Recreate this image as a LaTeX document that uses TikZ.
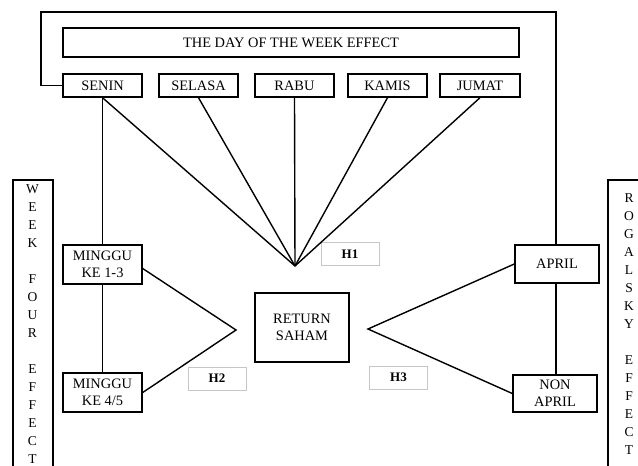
\documentclass[tikz,border=0pt]{standalone}
\usepackage{fontspec}
\setmainfont{Liberation Serif}
\begin{document}
\begin{tikzpicture}[x=1pt,y=-1pt,
  box/.style={draw=black,line width=1.4pt,inner sep=0pt,align=center,
    font=\fontsize{14.4}{17}\selectfont},
  hbox/.style={draw=gray!45,line width=0.6pt,inner sep=0pt,
    minimum width=58,minimum height=23,font=\fontsize{13}{16}\selectfont\bfseries},
  conn/.style={line width=1.4pt},
  vtext/.style={inner sep=0pt,align=center,anchor=north,
    font=\fontsize{13.5}{18}\selectfont}]
\useasboundingbox (0,0) rectangle (638,466);
\clip (0,0) rectangle (638,466);
% title and days
\node[box,minimum width=456,minimum height=29] (title) at (291,42.5) {THE DAY OF THE WEEK EFFECT};
\node[box,minimum width=79,minimum height=23] (senin) at (102.5,85.5) {SENIN};
\node[box,minimum width=79,minimum height=23] (selasa) at (198.5,85.5) {SELASA};
\node[box,minimum width=79,minimum height=23] (rabu) at (294.5,85.5) {RABU};
\node[box,minimum width=79,minimum height=23] (kamis) at (387.5,85.5) {KAMIS};
\node[box,minimum width=80,minimum height=23] (jumat) at (480,85.5) {JUMAT};
% left side
\node[box,minimum width=79,minimum height=39] (m13) at (102.5,264.5) {MINGGU\\KE 1-3};
\node[box,minimum width=79,minimum height=39] (m45) at (102.5,392.5) {MINGGU\\KE 4/5};
% centre
\node[box,minimum width=94,minimum height=69] (ret) at (302,327.5) {RETURN\\SAHAM};
% right side
\node[box,minimum width=84,minimum height=38] (apr) at (557,264) {APRIL};
\node[box,minimum width=84,minimum height=37] (napr) at (555,393.5) {NON\\APRIL};
% hypothesis labels
\node[hbox] (h1) at (350,254) {H1};
\node[hbox] (h2) at (217,378.5) {H2};
\node[hbox] (h3) at (398.5,377.5) {H3};
% apexes and frame corners
\coordinate (a1) at (295,266);
\coordinate (a2) at (236,330);
\coordinate (a3) at (368,329);
\coordinate (f1) at (41,85.5);
\coordinate (f2) at (41,12);
\coordinate (f3) at (556,12);
% outer frame
\draw[conn] (senin.west) -- (f1) -- (f2) -- (f3) -- (f3 |- apr.north);
% day connectors
\draw[conn] (senin.south) -- (m13.north);
\draw[conn] (senin.south) -- (a1);
\draw[conn] (selasa.south) -- (a1);
\draw[conn] (rabu.south) -- (a1);
\draw[conn] (kamis.south) -- (a1);
\draw[conn] (jumat.south) -- (a1);
% week four
\draw[conn] (m13.south) -- (m45.north);
\draw[conn] ([yshift=-4]m13.east) -- (a2) -- (m45.east);
% rogalsky
\draw[conn] (f3 |- apr.south) -- (f3 |- napr.north);
\draw[conn] (apr.west) -- (a3) -- (napr.west);
% vertical side boxes
\draw[line width=1.4pt] (13,480) -- (13,180) -- (53,180) -- (53,480);
\node[vtext] (wfe) at (32.5,184.5) {W\\E\\E\\K\\[18pt]F\\O\\U\\R\\[18pt]E\\F\\F\\E\\C\\T};
\draw[line width=1.4pt] (608,480) -- (608,180) -- (650,180) -- (650,480);
\node[vtext] (rge) at (629,193.5) {R\\O\\G\\A\\L\\S\\K\\Y\\[18pt]E\\F\\F\\E\\C\\T};
\end{tikzpicture}
\end{document}
